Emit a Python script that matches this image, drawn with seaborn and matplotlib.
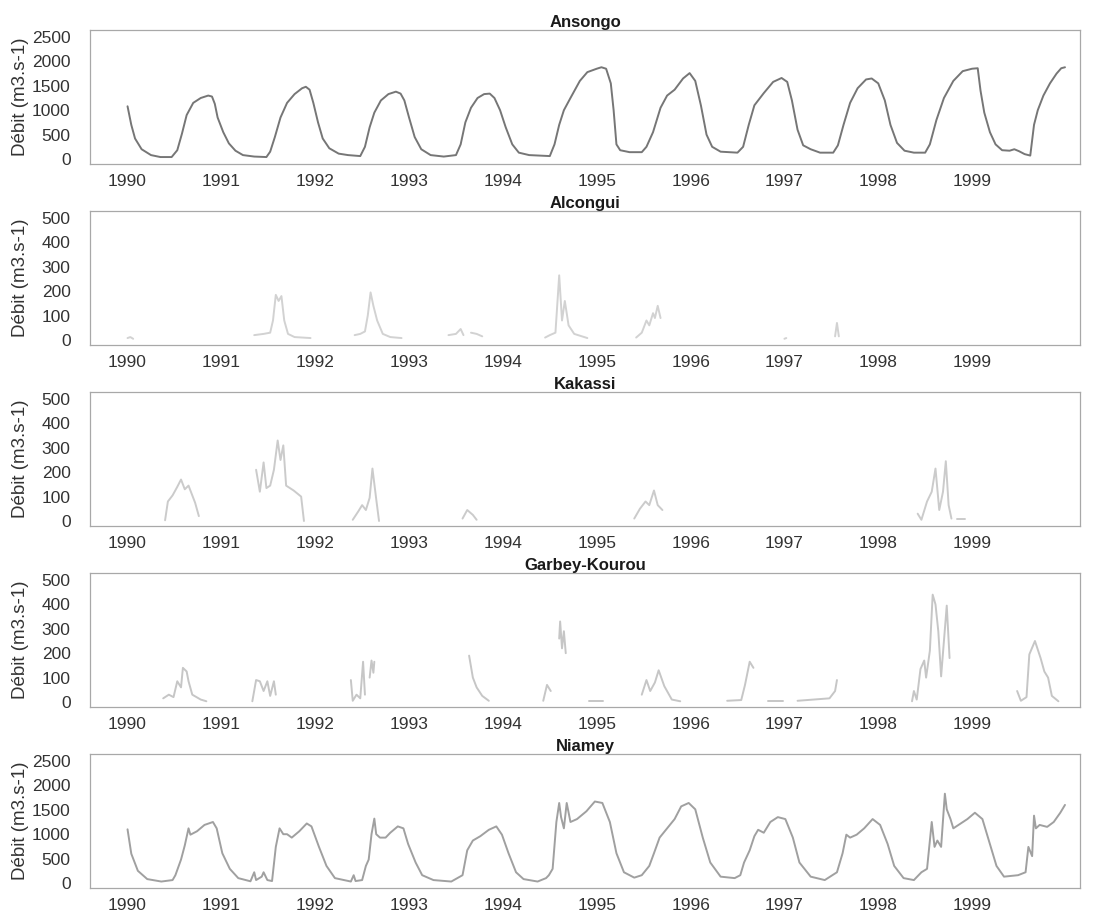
import numpy as np
import pandas as pd
import matplotlib
matplotlib.use("Agg")
import matplotlib.pyplot as plt
import seaborn as sns

# === Data: (decimal year, discharge m3/s), None = gap in the record ===
ansongo = [
    (1990.00, 1080), (1990.04, 700), (1990.08, 420), (1990.15, 200), (1990.25, 80), (1990.35, 40),
    (1990.47, 40), (1990.53, 180), (1990.58, 520), (1990.63, 900), (1990.70, 1150), (1990.78, 1250),
    (1990.86, 1300), (1990.90, 1280), (1990.93, 1130), (1990.96, 850), (1991.02, 550), (1991.08, 320),
    (1991.15, 170), (1991.23, 80), (1991.35, 50), (1991.48, 40), (1991.52, 150), (1991.57, 450),
    (1991.63, 850), (1991.70, 1150), (1991.78, 1330), (1991.86, 1450), (1991.90, 1480), (1991.94, 1420),
    (1991.98, 1150), (1992.03, 750), (1992.08, 420), (1992.15, 220), (1992.25, 110), (1992.35, 80),
    (1992.48, 60), (1992.53, 250), (1992.58, 650), (1992.63, 950), (1992.70, 1200), (1992.78, 1330),
    (1992.86, 1380), (1992.91, 1340), (1992.95, 1200), (1993.00, 850), (1993.06, 450), (1993.13, 200),
    (1993.23, 80), (1993.37, 50), (1993.50, 80), (1993.55, 300), (1993.60, 750), (1993.66, 1050),
    (1993.73, 1250), (1993.80, 1330), (1993.86, 1340), (1993.91, 1250), (1993.97, 1000), (1994.03, 650),
    (1994.10, 300), (1994.17, 130), (1994.28, 80), (1994.40, 70), (1994.50, 60), (1994.55, 300),
    (1994.60, 700), (1994.65, 1000), (1994.72, 1250), (1994.82, 1600), (1994.90, 1780), (1995.00, 1850),
    (1995.05, 1880), (1995.10, 1850), (1995.15, 1550), (1995.18, 1000), (1995.21, 300), (1995.25, 180),
    (1995.35, 140), (1995.48, 140), (1995.53, 250), (1995.60, 550), (1995.68, 1050), (1995.75, 1300),
    (1995.83, 1420), (1995.92, 1650), (1995.99, 1760), (1996.05, 1600), (1996.11, 1100), (1996.17, 500),
    (1996.23, 250), (1996.32, 150), (1996.50, 130), (1996.56, 250), (1996.62, 700), (1996.68, 1100),
    (1996.78, 1350), (1996.88, 1580), (1996.97, 1660), (1997.03, 1580), (1997.08, 1200), (1997.14, 600),
    (1997.20, 280), (1997.28, 200), (1997.38, 130), (1997.52, 130), (1997.57, 280), (1997.63, 700),
    (1997.70, 1150), (1997.78, 1450), (1997.87, 1630), (1997.93, 1650), (1998.00, 1550), (1998.07, 1200),
    (1998.13, 700), (1998.20, 330), (1998.28, 170), (1998.38, 130), (1998.50, 130), (1998.55, 300),
    (1998.62, 800), (1998.70, 1250), (1998.80, 1600), (1998.90, 1800), (1999.00, 1850), (1999.06, 1860),
    (1999.09, 1400), (1999.13, 950), (1999.19, 550), (1999.25, 300), (1999.32, 180), (1999.40, 170),
    (1999.45, 200), (1999.50, 160), (1999.56, 100), (1999.62, 70), (1999.66, 700), (1999.70, 1000),
    (1999.76, 1300), (1999.83, 1550), (1999.90, 1750), (1999.95, 1860), (1999.99, 1880),
]

alcongui = [
    (1990.00, 8), (1990.03, 12), (1990.06, 5), None,
    (1991.35, 20), (1991.45, 25), (1991.52, 30), (1991.55, 80), (1991.58, 185), (1991.61, 160),
    (1991.64, 180), (1991.67, 80), (1991.71, 25), (1991.78, 12), (1991.95, 8), None,
    (1992.42, 20), (1992.48, 25), (1992.53, 35), (1992.56, 100), (1992.59, 195), (1992.62, 140),
    (1992.66, 80), (1992.72, 25), (1992.80, 12), (1992.92, 8), None,
    (1993.42, 20), (1993.50, 25), (1993.55, 45), (1993.58, 20), None,
    (1993.66, 30), (1993.72, 25), (1993.78, 15), None,
    (1994.45, 10), (1994.50, 20), (1994.56, 30), (1994.60, 265), (1994.63, 80), (1994.66, 160),
    (1994.70, 60), (1994.76, 25), (1994.90, 8), None,
    (1995.42, 10), (1995.48, 30), (1995.53, 80), (1995.56, 60), (1995.60, 110), (1995.62, 90),
    (1995.65, 140), (1995.68, 90), None,
    (1997.00, 5), (1997.02, 8), None,
    (1997.54, 15), (1997.56, 70), (1997.58, 15),
]

kakassi = [
    (1990.40, 3), (1990.43, 80), (1990.48, 105), (1990.53, 140), (1990.57, 170), (1990.61, 130),
    (1990.65, 145), (1990.69, 105), (1990.72, 75), (1990.76, 20), None,
    (1991.37, 210), (1991.41, 120), (1991.45, 240), (1991.48, 135), (1991.52, 145), (1991.56, 210),
    (1991.60, 330), (1991.63, 250), (1991.66, 310), (1991.69, 145), (1991.77, 125), (1991.85, 100),
    (1991.88, 0), None,
    (1992.40, 5), (1992.46, 40), (1992.50, 65), (1992.54, 45), (1992.58, 95), (1992.61, 215),
    (1992.65, 90), (1992.68, 0), None,
    (1993.57, 10), (1993.62, 45), (1993.68, 25), (1993.72, 5), None,
    (1995.40, 10), (1995.46, 50), (1995.52, 80), (1995.56, 65), (1995.61, 125), (1995.65, 65),
    (1995.70, 45), None,
    (1998.42, 30), (1998.46, 5), (1998.52, 80), (1998.57, 120), (1998.61, 215), (1998.65, 45),
    (1998.69, 120), (1998.72, 245), (1998.75, 65), (1998.78, 10), None,
    (1998.84, 10), (1998.92, 10),
]

garbey = [
    (1990.38, 15), (1990.44, 30), (1990.49, 20), (1990.53, 85), (1990.57, 60), (1990.59, 140),
    (1990.63, 125), (1990.65, 85), (1990.69, 30), (1990.78, 10), (1990.84, 3), None,
    (1991.33, 3), (1991.37, 90), (1991.41, 85), (1991.45, 45), (1991.49, 85), (1991.52, 25),
    (1991.56, 85), (1991.58, 30), None,
    (1992.38, 90), (1992.40, 5), (1992.44, 30), (1992.48, 15), (1992.51, 165), (1992.53, 30), None,
    (1992.58, 100), (1992.60, 170), (1992.62, 120), (1992.63, 165), None,
    (1993.64, 190), (1993.68, 100), (1993.72, 60), (1993.78, 25), (1993.85, 5), None,
    (1994.43, 5), (1994.47, 70), (1994.51, 45), None,
    (1994.60, 260), (1994.61, 330), (1994.63, 220), (1994.65, 290), (1994.67, 200), None,
    (1994.92, 5), (1995.07, 5), None,
    (1995.48, 30), (1995.53, 90), (1995.57, 45), (1995.62, 80), (1995.66, 130), (1995.72, 65),
    (1995.80, 10), (1995.89, 3), None,
    (1996.39, 5), (1996.54, 8), (1996.58, 70), (1996.63, 165), (1996.67, 140), None,
    (1996.83, 5), (1996.98, 5), None,
    (1997.14, 5), (1997.48, 15), (1997.54, 45), (1997.56, 90), None,
    (1998.36, 3), (1998.38, 45), (1998.41, 10), (1998.45, 135), (1998.49, 170), (1998.51, 100),
    (1998.55, 210), (1998.58, 440), (1998.61, 400), (1998.64, 290), (1998.67, 105), (1998.70, 250),
    (1998.73, 395), (1998.76, 180), None,
    (1999.48, 45), (1999.52, 5), (1999.58, 20), (1999.61, 195), (1999.67, 250), (1999.73, 180),
    (1999.77, 125), (1999.81, 100), (1999.85, 25), (1999.92, 3),
]

niamey = [
    (1990.00, 1100), (1990.04, 600), (1990.11, 250), (1990.21, 80), (1990.36, 30), (1990.48, 60),
    (1990.51, 160), (1990.57, 480), (1990.61, 770), (1990.65, 1120), (1990.67, 990), (1990.74, 1060),
    (1990.82, 1190), (1990.91, 1250), (1990.95, 1120), (1991.01, 610), (1991.09, 290), (1991.18, 100),
    (1991.31, 35), (1991.35, 220), (1991.37, 60), (1991.43, 130), (1991.45, 220), (1991.49, 60),
    (1991.54, 40), (1991.58, 740), (1991.62, 1120), (1991.66, 1000), (1991.70, 1000), (1991.75, 930),
    (1991.83, 1060), (1991.91, 1220), (1991.96, 1160), (1992.04, 740), (1992.12, 350), (1992.21, 100),
    (1992.38, 30), (1992.41, 160), (1992.43, 40), (1992.50, 60), (1992.54, 350), (1992.57, 480),
    (1992.60, 1000), (1992.63, 1320), (1992.65, 1000), (1992.69, 930), (1992.75, 930), (1992.80, 1030),
    (1992.88, 1160), (1992.94, 1120), (1992.99, 800), (1993.07, 420), (1993.14, 160), (1993.26, 60),
    (1993.45, 30), (1993.57, 160), (1993.62, 670), (1993.68, 870), (1993.76, 960), (1993.85, 1090),
    (1993.93, 1160), (1993.99, 990), (1994.06, 610), (1994.14, 220), (1994.22, 80), (1994.37, 30),
    (1994.46, 100), (1994.49, 160), (1994.53, 290), (1994.57, 1250), (1994.60, 1640), (1994.62, 1350),
    (1994.65, 1120), (1994.68, 1640), (1994.72, 1250), (1994.79, 1310), (1994.89, 1470), (1994.98, 1670),
    (1995.06, 1640), (1995.14, 1250), (1995.21, 610), (1995.29, 220), (1995.40, 110), (1995.48, 160),
    (1995.56, 350), (1995.61, 610), (1995.67, 930), (1995.75, 1120), (1995.83, 1310), (1995.90, 1570),
    (1995.98, 1640), (1996.05, 1510), (1996.13, 930), (1996.21, 420), (1996.32, 130), (1996.47, 100),
    (1996.53, 160), (1996.57, 420), (1996.63, 670), (1996.68, 960), (1996.72, 1090), (1996.78, 1030),
    (1996.85, 1250), (1996.93, 1350), (1997.01, 1310), (1997.09, 930), (1997.16, 420), (1997.28, 130),
    (1997.43, 60), (1997.51, 160), (1997.56, 220), (1997.62, 610), (1997.66, 990), (1997.70, 930),
    (1997.77, 990), (1997.85, 1120), (1997.94, 1310), (1998.02, 1190), (1998.10, 800), (1998.17, 350),
    (1998.27, 100), (1998.38, 60), (1998.46, 220), (1998.52, 290), (1998.57, 1250), (1998.60, 740),
    (1998.63, 870), (1998.67, 740), (1998.71, 1830), (1998.73, 1510), (1998.77, 1310), (1998.80, 1120),
    (1998.88, 1220), (1998.95, 1310), (1999.03, 1440), (1999.11, 1310), (1999.19, 800), (1999.26, 350),
    (1999.34, 130), (1999.49, 160), (1999.57, 220), (1999.60, 740), (1999.64, 550), (1999.66, 1380),
    (1999.68, 1120), (1999.72, 1190), (1999.80, 1150), (1999.87, 1250), (1999.94, 1440), (1999.99, 1600),
]

stations = ["Ansongo", "Alcongui", "Kakassi", "Garbey-Kourou", "Niamey"]
records = [ansongo, alcongui, kakassi, garbey, niamey]
line_colors = ["#767676", "#d2d2d2", "#cbcbcb", "#c6c6c6", "#a0a0a0"]
y_max = [2500, 500, 500, 500, 2500]
years = list(range(1990, 2000))


def to_frame(points):
    # split the record into continuous segments at the gaps
    rows, seg = [], 0
    for p in points:
        if p is None:
            seg += 1
            continue
        rows.append((p[0], p[1], seg))
    return pd.DataFrame(rows, columns=["t", "q", "seg"])


sns.set_style("white")
plt.rcParams["font.family"] = ["Liberation Sans", "DejaVu Sans"]

W, H = 1097, 911
fig = plt.figure(figsize=(W / 100, H / 100), dpi=100)

for k, (name, pts, col, ym) in enumerate(zip(stations, records, line_colors, y_max)):
    top = 30 + 181 * k
    ph = 134
    ax = fig.add_axes([90 / W, 1 - (top + ph) / H, 990 / W, ph / H])
    df = to_frame(pts)
    sns.lineplot(data=df, x="t", y="q", units="seg", estimator=None,
                 color=col, lw=1.4, ax=ax)

    ax.set_xlim(1989.6, 2000.15)
    step = ym / (ph - 12)
    ax.set_ylim(-5 * step, ym + 7 * step)
    ax.set_yticks(np.linspace(0, ym, 6))
    ax.set_yticklabels([f"{int(v)}" for v in np.linspace(0, ym, 6)])
    ax.set_xticks(years)
    ax.set_xticklabels([str(y) for y in years])

    ax.set_title(name, fontweight="bold", fontsize=12, pad=2, color="#1a1a1a")
    ax.set_ylabel("Débit (m3.s-1)", fontsize=13.5, color="#333333")
    ax.yaxis.set_label_coords(-0.062, 0.5)
    ax.set_xlabel("")
    ax.tick_params(axis="both", labelsize=12.5, length=4, width=0.8,
                   color="#aaaaaa", labelcolor="#333333", pad=3)
    ax.tick_params(axis="y", pad=10)
    for s in ax.spines.values():
        s.set_color("#a8a8a8")
        s.set_linewidth(0.9)

fig.savefig("out.png", dpi=100)
